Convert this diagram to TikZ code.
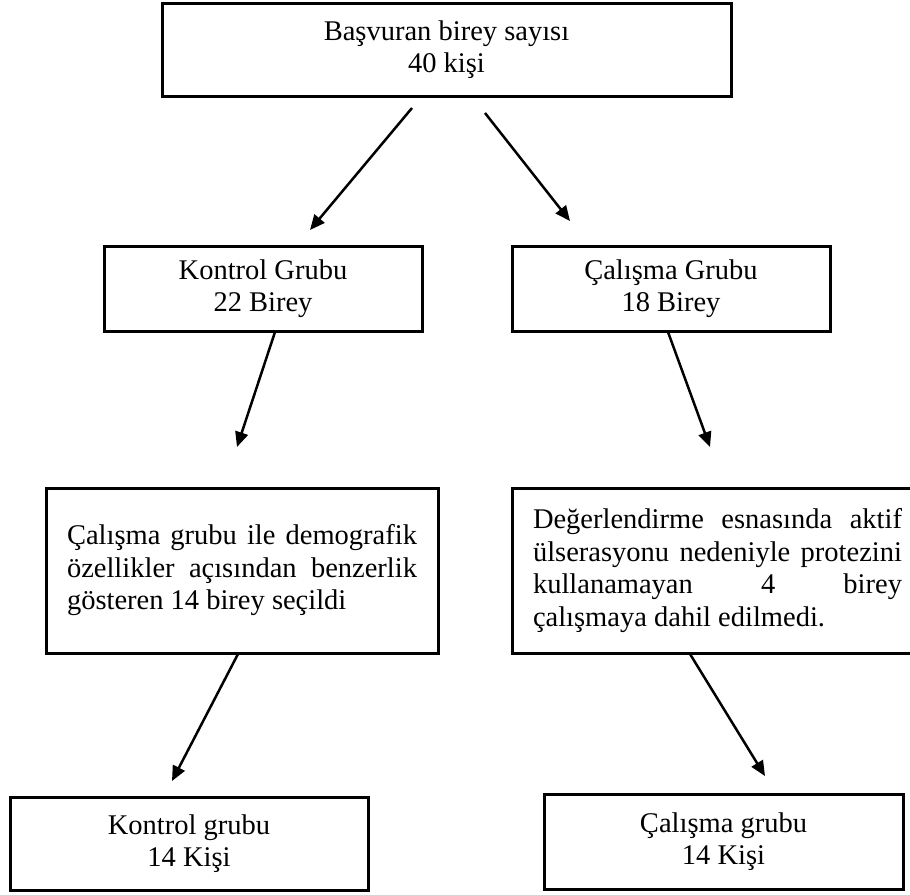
\documentclass[tikz,border=0pt]{standalone}
\usepackage{fontspec}
\setmainfont{Liberation Serif}
\usetikzlibrary{arrows.meta}

\begin{document}
\begin{tikzpicture}[x=1pt, y=-1pt,
                    kutu/.style={draw, line width=3pt, inner sep=0pt,
                            align=center,
                            font=\fontsize{28.5}{32.5}\selectfont},
                    ok/.style={line width=2.5pt,
                            -{Triangle[length=15pt, width=13pt]}}]
                \useasboundingbox (0,0) rectangle (910,894);

                % kutular
                \node[kutu, minimum width=569pt, minimum height=93pt] (basvuru) at (446.5,49.5)
                    {Başvuran birey sayısı\\40 kişi};
                \node[kutu, minimum width=318pt, minimum height=85pt] (kontrol) at (263,288.5)
                    {Kontrol Grubu\\22 Birey};
                \node[kutu, minimum width=318pt, minimum height=85pt] (calisma) at (671,288.5)
                    {Çalışma Grubu\\18 Birey};
                \node[kutu, minimum width=392pt, minimum height=165pt,
                      text width=350pt, align=justify] (secim) at (242,570.5)
                    {Çalışma grubu ile demografik\linebreak
                     özellikler açısından benzerlik\linebreak
                     gösteren 14 birey seçildi};
                \node[kutu, minimum width=411pt, minimum height=165pt,
                      text width=369pt, align=justify] (dahil) at (717.5,570.5)
                    {Değerlendirme esnasında aktif\linebreak
                     ülserasyonu nedeniyle protezini\linebreak
                     kullanamayan 4 birey\linebreak
                     çalışmaya dahil edilmedi.};
                \node[kutu, minimum width=358pt, minimum height=93pt] (kontrolson) at (189,843.5)
                    {Kontrol grubu\\14 Kişi};
                \node[kutu, minimum width=359pt, minimum height=95pt] (calismason) at (723.5,841.5)
                    {Çalışma grubu\\14 Kişi};

                % ok uçları
                \coordinate (o1a) at (412,108);
                \coordinate (o1b) at (310,230);
                \coordinate (o2a) at (485,113);
                \coordinate (o2b) at (570,221);
                \coordinate (o3a) at (275,332);
                \coordinate (o3b) at (237,447);
                \coordinate (o4a) at (668,332);
                \coordinate (o4b) at (710,447);
                \coordinate (o5a) at (238,654);
                \coordinate (o5b) at (172,781);
                \coordinate (o6a) at (690,654);
                \coordinate (o6b) at (765,776);

                \foreach \i in {1,...,6} {
                        \draw[ok] (o\i a) -- (o\i b);
                }
            \end{tikzpicture}
\end{document}
